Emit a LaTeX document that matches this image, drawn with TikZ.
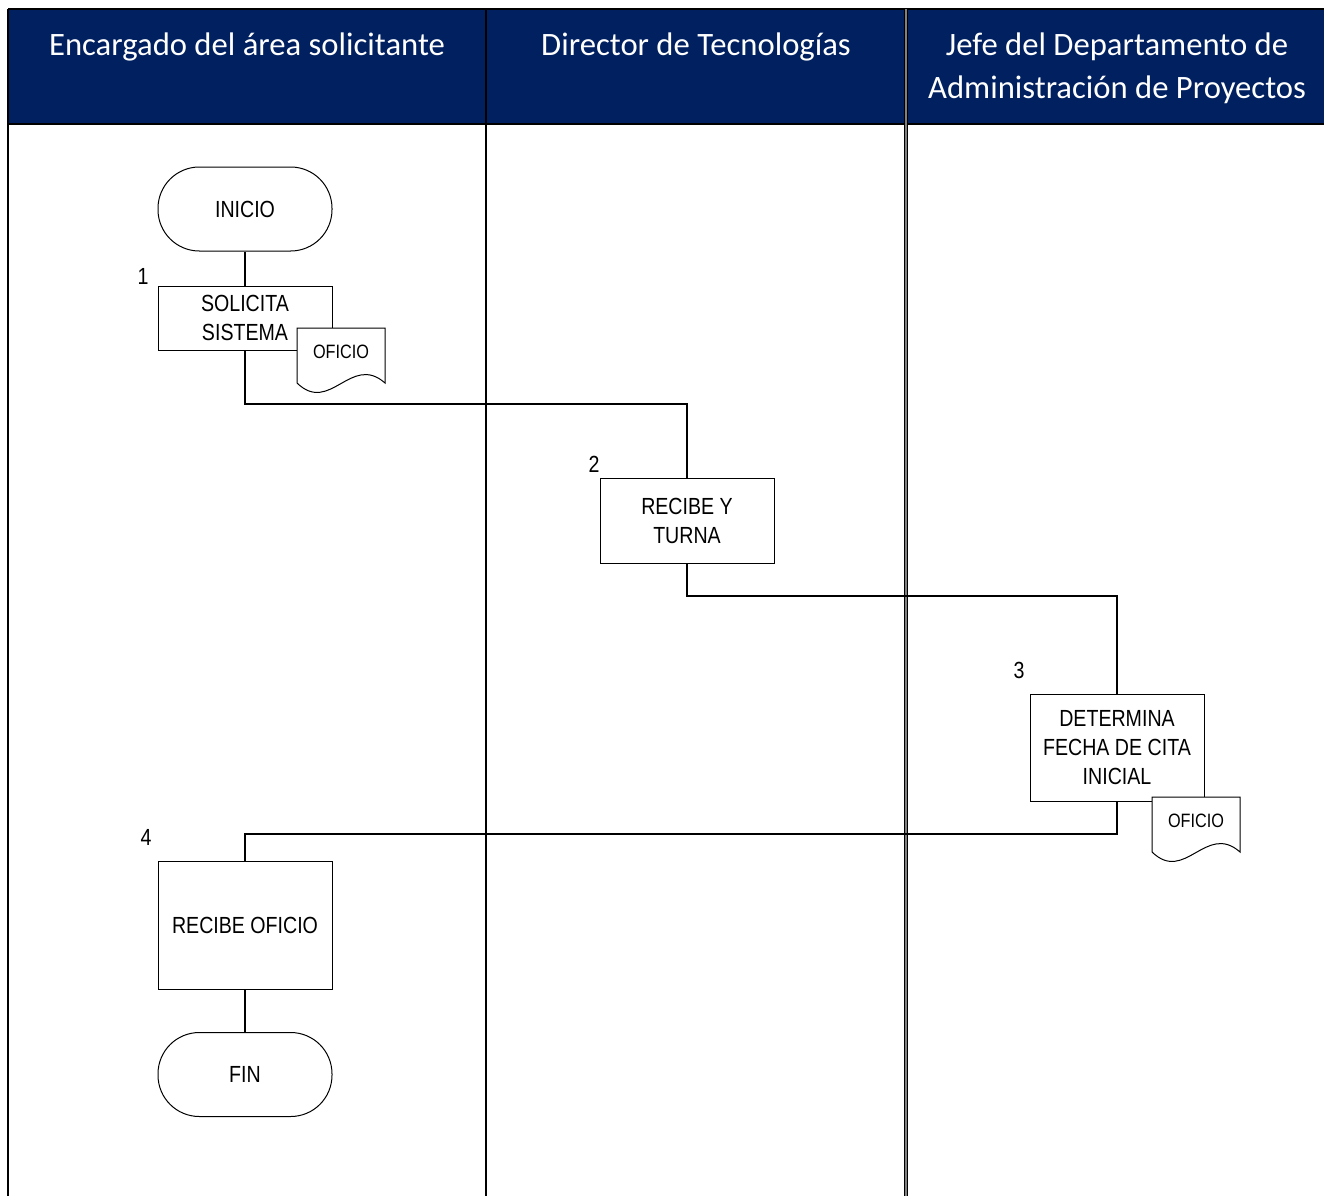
\documentclass[tikz,border=0pt]{standalone}
\usepackage{fontspec}
\setmainfont{Liberation Sans}[FakeStretch=0.84]
\newfontfamily\hdrfont{Carlito}
\definecolor{navy}{HTML}{002060}
\newcommand\oficiodoc[3]{%
  \begin{scope}[shift={(#1,#2)}]
    \draw[line width=0.75pt,fill=white] (0,0) -- (88,0) -- (88,55) .. controls (54,25) and (33,87) .. (0,55) -- cycle;
    \node[doctxt] (#3) at (44,24) {OFICIO};
  \end{scope}}
\begin{document}
\begin{tikzpicture}[x=0.75pt,y=-0.75pt,
  conn/.style={line width=1.5pt},
  box/.style={draw,line width=0.75pt,fill=white,minimum width=130.5pt,align=center,inner sep=0pt,font=\fontsize{17.5}{21.75}\selectfont},
  term/.style={box,rounded corners=31pt,minimum height=63pt},
  num/.style={font=\fontsize{17.5}{21}\selectfont,inner sep=0pt},
  hdr/.style={font=\hdrfont\fontsize{24.5}{32.25}\selectfont,text=white,align=center,inner sep=0pt},
  doctxt/.style={font=\fontsize{14.5}{17}\selectfont,inner sep=0pt}
]
\useasboundingbox (0,0) rectangle (1324,1196);
\fill[white] (0,0) rectangle (1324,1196);
% header
\fill[navy] (8,9) rectangle (1324,124);
\draw[line width=1.5pt] (8,9) -- (1324,9);
\draw[line width=1.5pt] (8,124) -- (1324,124);
\draw[line width=1.5pt] (8,9) -- (8,1196);
\draw[line width=1.5pt] (486,9) -- (486,1196);
\draw[line width=3pt] (906,9) -- (906,1196);
\draw[line width=1pt,gray] (906,9) -- (906,1196);
\node[hdr,anchor=base] (h1) at (247,55) {Encargado del área solicitante};
\node[hdr,anchor=base] (h2) at (696,55) {Director de Tecnologías};
\node[hdr,anchor=north] (h3) at (1117,33) {Jefe del Departamento de\\Administración de Proyectos};
% nodes
\node[term] (inicio) at (245,209) {INICIO};
\node[box,minimum height=48pt] (sol) at (245,318) {SOLICITA\\SISTEMA};
\node[box,minimum height=63.75pt] (rec) at (687,520.5) {RECIBE Y\\TURNA};
\node[box,minimum height=80.25pt] (det) at (1117,747.5) {DETERMINA\\FECHA DE CITA\\INICIAL};
\node[box,minimum height=96pt] (ofi) at (245,925) {RECIBE OFICIO};
\node[term] (fin) at (245,1074.5) {FIN};
% numbers
\node[num] (n1) at (143,276) {1};
\node[num] (n2) at (594,464) {2};
\node[num] (n3) at (1019,670) {3};
\node[num] (n4) at (146,837) {4};
% connectors
\draw[conn] (inicio.south) -- (sol.north);
\draw[conn] (sol.south) -- ++(0,53) -| (rec.north);
\draw[conn] (rec.south) -- ++(0,32) -| (det.north);
\draw[conn] (det.south) -- ++(0,32) -| (ofi.north);
\draw[conn] (ofi.south) -- (fin.north);
% documents
\oficiodoc{297}{328}{doc1}
\oficiodoc{1152}{797}{doc2}
\end{tikzpicture}
\end{document}
